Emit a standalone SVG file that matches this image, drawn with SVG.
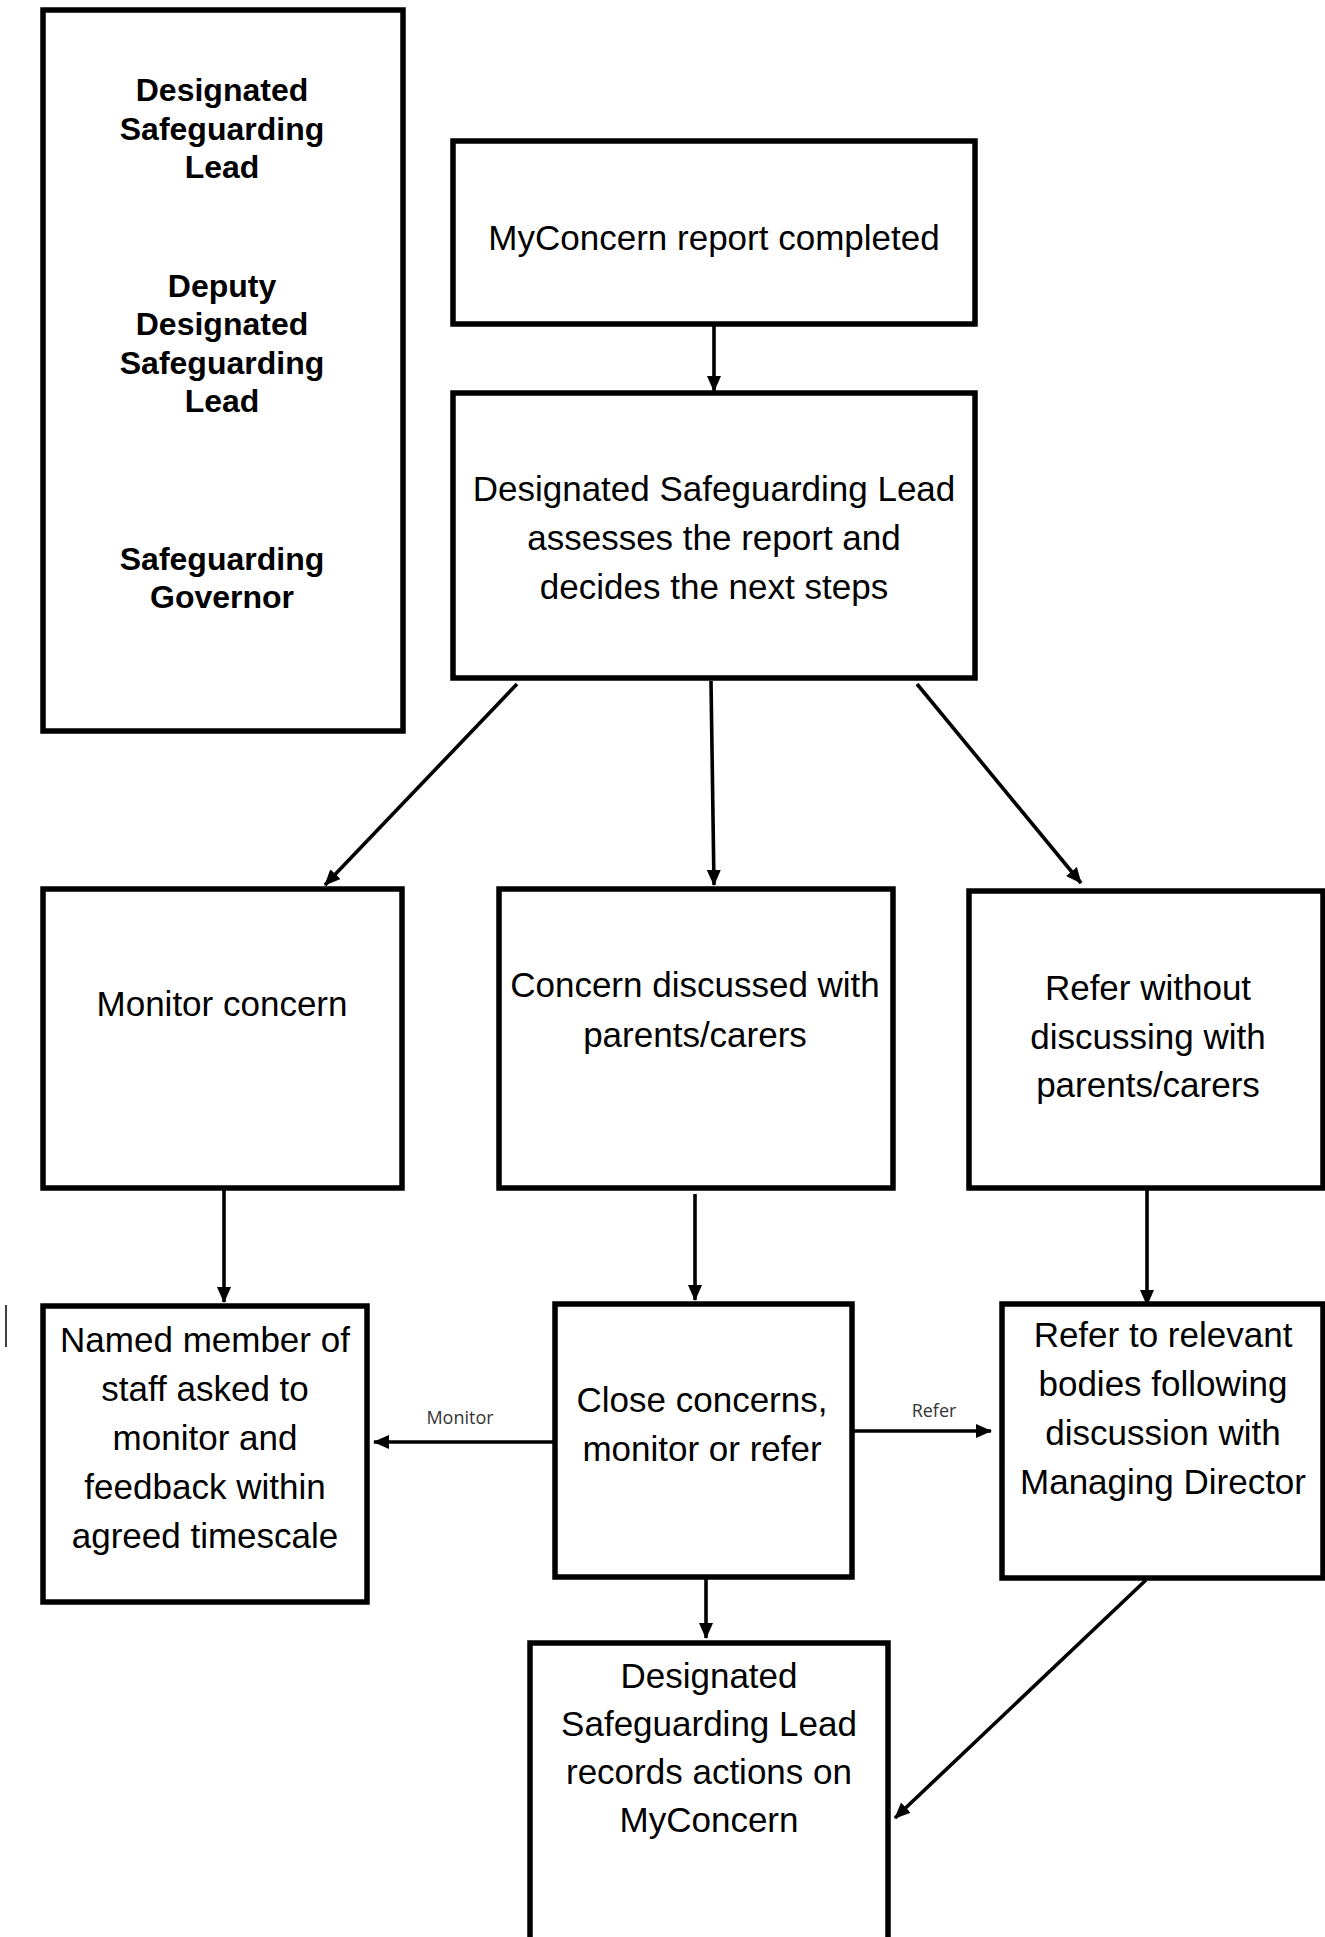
<svg xmlns="http://www.w3.org/2000/svg" width="1325" height="1937" viewBox="0 0 1325 1937">
<style>
.box{fill:#fff;stroke:#000;stroke-width:5.5}
.t{font-family:"Liberation Sans",Arial,sans-serif;font-size:35px;fill:#000;text-anchor:middle}
.b{font-family:"Liberation Sans",Arial,sans-serif;font-size:32px;font-weight:bold;fill:#000;text-anchor:middle}
.lbl{font-family:"Open Sans","DejaVu Sans",sans-serif;font-size:18px;fill:#333;text-anchor:middle}
.c{stroke:#000;stroke-width:3.6;fill:none;marker-end:url(#ah)}
</style>
<defs>
<marker id="ah" markerUnits="userSpaceOnUse" markerWidth="16" markerHeight="14" refX="15" refY="7" orient="auto">
<path d="M0,0 L16,7 L0,14 z" fill="#000"/>
</marker>
</defs>
<rect width="1325" height="1937" fill="#fff"/>
<line x1="6" y1="1305" x2="6" y2="1347" stroke="#000" stroke-width="1.5"/>

<g id="roles">
<rect class="box" x="43" y="10" width="360" height="721"/>
<text class="b" x="222" y="101">Designated</text>
<text class="b" x="222" y="139.5">Safeguarding</text>
<text class="b" x="222" y="178">Lead</text>
<text class="b" x="222" y="296.5">Deputy</text>
<text class="b" x="222" y="335">Designated</text>
<text class="b" x="222" y="373.5">Safeguarding</text>
<text class="b" x="222" y="412">Lead</text>
<text class="b" x="222" y="569.5">Safeguarding</text>
<text class="b" x="222" y="608">Governor</text>
</g>

<g id="report">
<rect class="box" x="453" y="141" width="522" height="183"/>
<text class="t" x="714" y="250">MyConcern report completed</text>
</g>

<g id="assess">
<rect class="box" x="453" y="393" width="522" height="285"/>
<text class="t" x="714" y="501">Designated Safeguarding Lead</text>
<text class="t" x="714" y="550">assesses the report and</text>
<text class="t" x="714" y="599">decides the next steps</text>
</g>

<g id="monitor">
<rect class="box" x="43" y="889" width="359" height="299"/>
<text class="t" x="222" y="1016">Monitor concern</text>
</g>

<g id="discussed">
<rect class="box" x="499" y="889" width="394" height="299"/>
<text class="t" x="695" y="997">Concern discussed with</text>
<text class="t" x="695" y="1047">parents/carers</text>
</g>

<g id="referwithout">
<rect class="box" x="969" y="891" width="354" height="297"/>
<text class="t" x="1148" y="1000">Refer without</text>
<text class="t" x="1148" y="1049">discussing with</text>
<text class="t" x="1148" y="1097">parents/carers</text>
</g>

<g id="named">
<rect class="box" x="43" y="1306" width="324" height="296"/>
<text class="t" x="205" y="1352">Named member of</text>
<text class="t" x="205" y="1401">staff asked to</text>
<text class="t" x="205" y="1450">monitor and</text>
<text class="t" x="205" y="1499">feedback within</text>
<text class="t" x="205" y="1548">agreed timescale</text>
</g>

<g id="close">
<rect class="box" x="555" y="1304" width="297" height="273"/>
<text class="t" x="702" y="1412">Close concerns,</text>
<text class="t" x="702" y="1461">monitor or refer</text>
</g>

<g id="refer">
<rect class="box" x="1002" y="1304" width="321" height="274"/>
<text class="t" x="1163" y="1347">Refer to relevant</text>
<text class="t" x="1163" y="1396">bodies following</text>
<text class="t" x="1163" y="1445">discussion with</text>
<text class="t" x="1163" y="1494">Managing Director</text>
</g>

<g id="records">
<rect class="box" x="530" y="1643" width="358" height="310"/>
<text class="t" x="709" y="1688">Designated</text>
<text class="t" x="709" y="1736">Safeguarding Lead</text>
<text class="t" x="709" y="1784">records actions on</text>
<text class="t" x="709" y="1832">MyConcern</text>
</g>

<g id="connectors">
<line class="c" x1="714" y1="326" x2="714" y2="391"/>
<line class="c" x1="517" y1="684" x2="325" y2="885"/>
<line class="c" x1="711" y1="681" x2="714" y2="885"/>
<line class="c" x1="917" y1="684" x2="1081" y2="883"/>
<line class="c" x1="224" y1="1190" x2="224" y2="1302"/>
<line class="c" x1="695" y1="1194" x2="695" y2="1300"/>
<line class="c" x1="1147" y1="1190" x2="1147" y2="1305"/>
<line class="c" x1="553" y1="1442" x2="374" y2="1442"/>
<line class="c" x1="853" y1="1431" x2="991" y2="1431"/>
<line class="c" x1="706" y1="1579" x2="706" y2="1638"/>
<line class="c" x1="1146" y1="1580" x2="895" y2="1818"/>
<text class="lbl" x="460" y="1424">Monitor</text>
<text class="lbl" x="934" y="1417">Refer</text>
</g>
</svg>
